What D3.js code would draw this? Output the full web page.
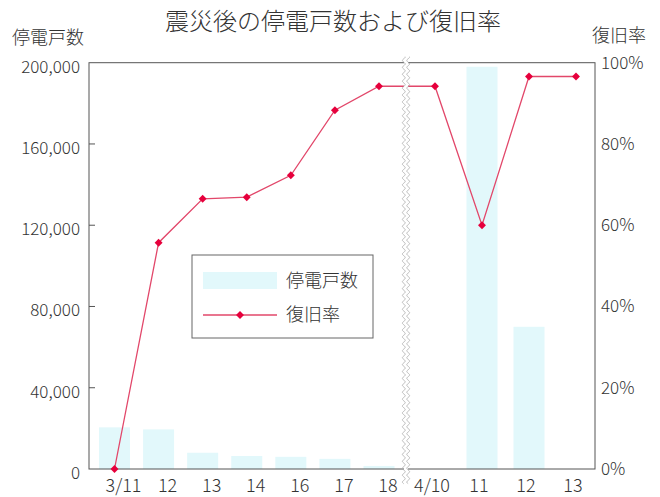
<!DOCTYPE html>
<html>
<head>
<meta charset="utf-8">
<script src="https://cdn.jsdelivr.net/npm/d3@7"></script>
<style>
  body { margin: 0; background: #fff; }
  text { font-family: "Noto Sans CJK JP", "Noto Sans", sans-serif; fill: #333; }
</style>
</head>
<body>
<div id="container"></div>
<script>
let w = 660;
let h = 497;

// DATA
let dates = ["3/11", "12", "13", "14", "16", "17", "18", "4/10", "11", "12", "13"];
let outages = [20500, 19500, 8000, 6400, 6000, 5000, 1500, 0, 198000, 70000, 0];
let recovery = [0, 55.7, 66.5, 66.9, 72.3, 88.3, 94.2, 94.2, 60, 96.6, 96.6];
let leftTicks = [0, 40000, 80000, 120000, 160000, 200000];
let rightTicks = [0, 20, 40, 60, 80, 100];
let breakAfter = 6; // axis is broken between 18 and 4/10

let plotL = 89, plotR = 595, plotT = 62.7, plotB = 469;

let viz = d3.select("#container").append("svg")
    .attr("width", w)
    .attr("height", h)
    .style("background-color", "white");

// broken axis: piecewise scale over slot index
let x = d3.scaleLinear()
    .domain([0, breakAfter, breakAfter + 1, dates.length - 1])
    .range([114.5, 379, 435, 576]);
let yL = d3.scaleLinear().domain([0, 200000]).range([plotB, plotT]);
let yR = d3.scaleLinear().domain([0, 100]).range([plotB, plotT]);

// bars
viz.selectAll(".bar").data(outages).enter()
    .append("rect")
        .attr("class", "bar")
        .attr("x", (d, i) => x(i) - 15.5)
        .attr("width", 31)
        .attr("y", d => yL(d))
        .attr("height", d => plotB - yL(d))
        .attr("fill", "#e2f8fb");

// frame
viz.append("rect")
    .attr("x", plotL).attr("y", plotT)
    .attr("width", plotR - plotL).attr("height", plotB - plotT)
    .attr("fill", "none").attr("stroke", "#555").attr("stroke-width", 1);

// left axis inside ticks
viz.selectAll(".ltick").data(leftTicks.slice(1, -1)).enter()
    .append("line")
        .attr("x1", plotL).attr("x2", plotL + 6)
        .attr("y1", d => yL(d)).attr("y2", d => yL(d))
        .attr("stroke", "#555");

viz.selectAll(".llab").data(leftTicks).enter()
    .append("text")
        .attr("x", 80)
        .attr("y", d => yL(d) + 4)
        .attr("dy", "0.35em")
        .attr("text-anchor", "end")
        .style("font-size", "17px")
        .style("font-weight", 300)
        .text(d => d3.format(",")(d));

viz.selectAll(".rlab").data(rightTicks).enter()
    .append("text")
        .attr("x", 601)
        .attr("y", d => yR(d))
        .attr("dy", "0.35em")
        .style("font-size", "17px")
        .style("font-weight", 300)
        .text(d => d + "%");

// x labels
viz.selectAll(".xlab").data(dates).enter()
    .append("text")
        .attr("x", (d, i) => x(i) + (i <= breakAfter ? 9 : -3))
        .attr("y", 492)
        .attr("text-anchor", "middle")
        .style("font-size", "18px")
        .style("font-weight", 300)
        .text(d => d);

// line
let line = d3.line().x((d, i) => x(i)).y(d => yR(d));
viz.append("path")
    .datum(recovery)
    .attr("d", line)
    .attr("fill", "none")
    .attr("stroke", "#e2476a")
    .attr("stroke-width", 1.3);

let diamond = d3.symbol().type(d3.symbolDiamond2).size(40);
viz.selectAll(".pt").data(recovery).enter()
    .append("path")
        .attr("d", diamond)
        .attr("transform", (d, i) => `translate(${x(i)},${yR(d)})`)
        .attr("fill", "#e6003c");

// break marks
let bx = (x(breakAfter) + x(breakAfter + 1)) / 2 - 1;
viz.append("rect")
    .attr("x", bx - 2).attr("y", plotT - 6)
    .attr("width", 4).attr("height", plotB - plotT + 20)
    .attr("fill", "white");
let wave = off => {
    let pts = d3.range(plotT - 6, plotB + 15, 0.5).map(yy => [bx + off + 1.4 * Math.sin(yy / 1.1), yy]);
    return d3.line()(pts);
};
[-2.2, 2.2].forEach(off => {
    viz.append("path").attr("d", wave(off))
        .attr("fill", "none").attr("stroke", "#aaa").attr("stroke-width", 0.8);
});

// titles
viz.append("text")
    .attr("x", 333).attr("y", 30)
    .attr("text-anchor", "middle")
    .style("font-size", "24px")
    .style("font-weight", 300)
    .text("震災後の停電戸数および復旧率");
viz.append("text")
    .attr("x", 12).attr("y", 44)
    .style("font-size", "18px")
    .style("font-weight", 300)
    .text("停電戸数");
viz.append("text")
    .attr("x", 646).attr("y", 42)
    .attr("text-anchor", "end")
    .style("font-size", "18px")
    .style("font-weight", 300)
    .text("復旧率");

// legend
let lg = viz.append("g").attr("transform", "translate(192,255)");
lg.append("rect")
    .attr("width", 181).attr("height", 83)
    .attr("fill", "white").attr("stroke", "#666");
lg.append("rect")
    .attr("x", 11).attr("y", 17).attr("width", 74).attr("height", 17)
    .attr("fill", "#e2f8fb");
lg.append("text")
    .attr("x", 94).attr("y", 26).attr("dy", "0.35em")
    .style("font-size", "18px").style("font-weight", 300)
    .text("停電戸数");
lg.append("line")
    .attr("x1", 11).attr("x2", 85).attr("y1", 60).attr("y2", 60)
    .attr("stroke", "#e2476a").attr("stroke-width", 1.3);
lg.append("path")
    .attr("d", diamond)
    .attr("transform", "translate(48,60)")
    .attr("fill", "#e6003c");
lg.append("text")
    .attr("x", 94).attr("y", 60).attr("dy", "0.35em")
    .style("font-size", "18px").style("font-weight", 300)
    .text("復旧率");
</script>
</body>
</html>
